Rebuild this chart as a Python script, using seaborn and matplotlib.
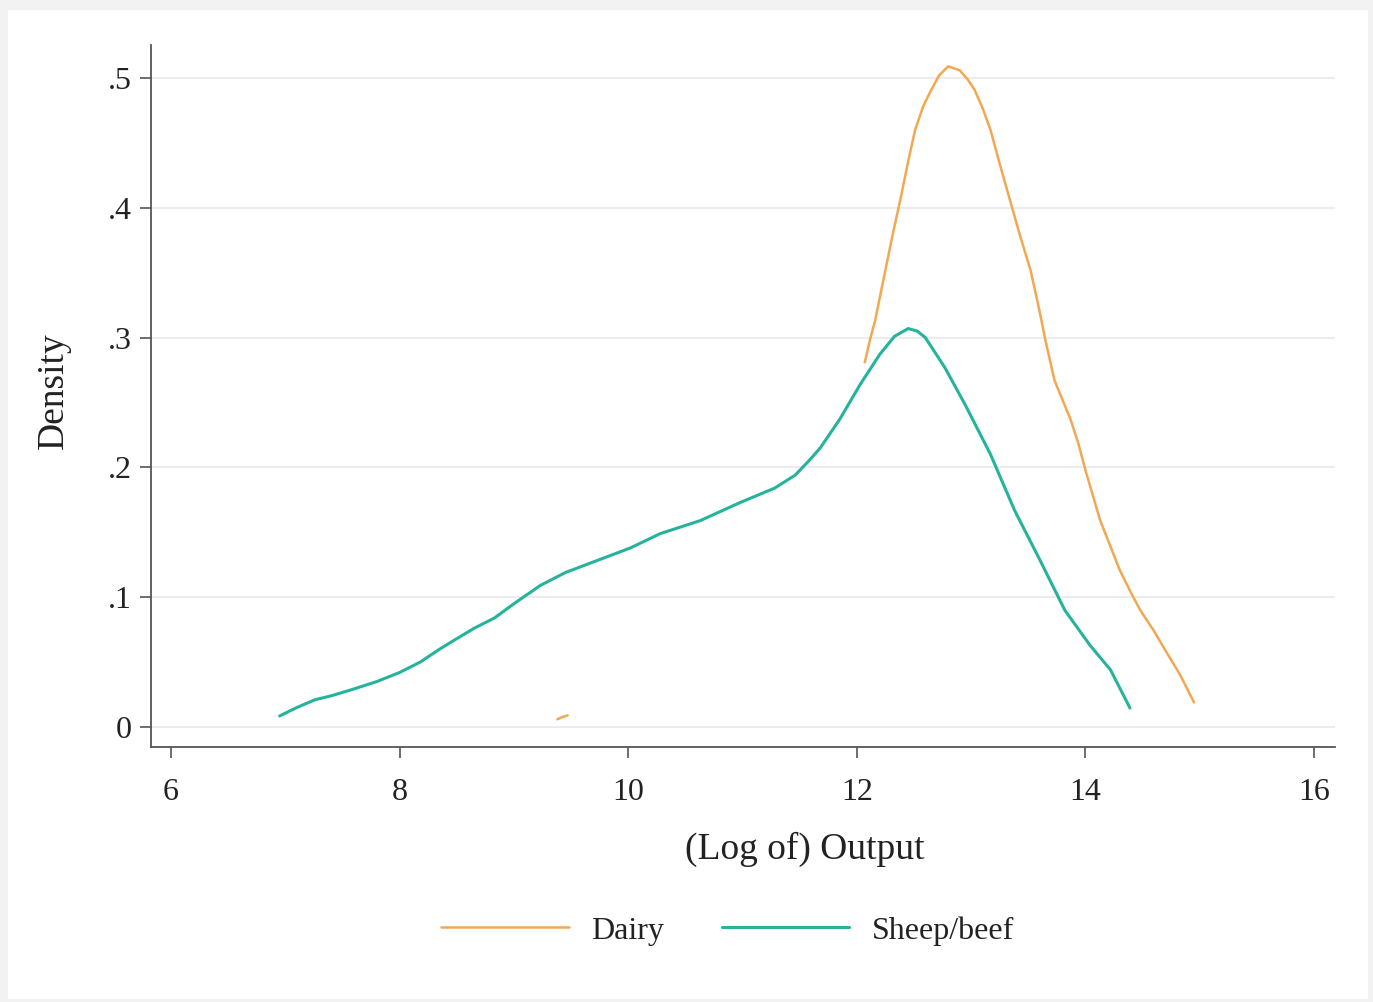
import pandas as pd
import matplotlib.pyplot as plt
import seaborn as sns
from matplotlib.patches import Rectangle

sns.set_style("white")
plt.rcParams['font.family'] = ['Liberation Serif', 'DejaVu Serif']

# Sheep/beef kernel density
sheep_x = [6.95, 7.1, 7.26, 7.4, 7.57, 7.8, 8.0, 8.18, 8.35, 8.48, 8.65, 8.83, 9.0,
           9.23, 9.45, 9.75, 10.02, 10.28, 10.63, 10.98, 11.28, 11.46, 11.58, 11.68,
           11.85, 12.03, 12.2, 12.33, 12.45, 12.53, 12.6, 12.77, 12.95, 13.17, 13.38,
           13.6, 13.82, 14.04, 14.22, 14.39]
sheep_y = [0.0085, 0.015, 0.021, 0.024, 0.0285, 0.035, 0.042, 0.050, 0.060, 0.067,
           0.076, 0.084, 0.095, 0.109, 0.119, 0.129, 0.138, 0.149, 0.159, 0.173,
           0.184, 0.194, 0.205, 0.215, 0.237, 0.264, 0.287, 0.301, 0.307, 0.305,
           0.300, 0.277, 0.248, 0.210, 0.167, 0.129, 0.090, 0.063, 0.044, 0.0146]

# Dairy kernel density: main part and a tiny fragment near 9.4
dairy_x = [12.07, 12.12, 12.16, 12.25, 12.32, 12.38, 12.45, 12.51, 12.58, 12.64, 12.72,
           12.8, 12.9, 12.97, 13.03, 13.1, 13.17, 13.25, 13.34, 13.43, 13.52, 13.6,
           13.65, 13.73, 13.8, 13.87, 13.94, 14.0, 14.07, 14.13, 14.22, 14.3, 14.39,
           14.48, 14.6, 14.7, 14.83, 14.95]
dairy_y = [0.281, 0.300, 0.313, 0.352, 0.382, 0.406, 0.436, 0.460, 0.478, 0.489, 0.502,
           0.509, 0.506, 0.499, 0.491, 0.477, 0.460, 0.434, 0.406, 0.378, 0.352, 0.320,
           0.298, 0.267, 0.252, 0.237, 0.218, 0.198, 0.177, 0.159, 0.139, 0.121, 0.105,
           0.090, 0.074, 0.059, 0.040, 0.019]
dairy_frag_x = [9.38, 9.42, 9.47]
dairy_frag_y = [0.006, 0.0075, 0.009]

y_ticks = [0, 0.1, 0.2, 0.3, 0.4, 0.5]
y_labels = ["0", ".1", ".2", ".3", ".4", ".5"]
x_ticks = [6, 8, 10, 12, 14, 16]

orange = "#f2a852"
teal = "#25b39b"

fig = plt.figure(figsize=(13.73, 10.02), dpi=100, facecolor="#f2f2f2")
fig.patches.append(Rectangle((0.006, 0.003), 0.99, 0.987, transform=fig.transFigure,
                             facecolor="white", edgecolor="none", zorder=-1))
ax = fig.add_axes([0.110, 0.2545, 0.862, 0.7005])
ax.set_facecolor("white")

sns.lineplot(x=dairy_x, y=dairy_y, ax=ax, color=orange, linewidth=1.8, label="Dairy")
sns.lineplot(x=dairy_frag_x, y=dairy_frag_y, ax=ax, color=orange, linewidth=1.8)
sns.lineplot(x=sheep_x, y=sheep_y, ax=ax, color=teal, linewidth=2.2, label="Sheep/beef")

ax.set_xlim(5.825, 16.18)
ax.set_ylim(-0.0154, 0.5254)
ax.set_xticks(x_ticks)
ax.set_yticks(y_ticks)
ax.set_yticklabels(y_labels)
ax.yaxis.grid(True, color="#ececec", linewidth=1.5)
ax.set_axisbelow(True)

for s in ["top", "right"]:
    ax.spines[s].set_visible(False)
for s in ["left", "bottom"]:
    ax.spines[s].set_color("#555555")
    ax.spines[s].set_linewidth(1.3)
ax.tick_params(axis="both", direction="out", length=8, width=1.2, color="#555555",
               labelsize=23, labelcolor="#222222", pad=6, bottom=True, left=True)
ax.tick_params(axis="x", pad=14)

ax.set_xlabel("(Log of) Output", fontsize=27, color="#222222")
ax.xaxis.set_label_coords(0.552, -0.121)
ax.set_ylabel("Density", fontsize=27, color="#222222")
ax.yaxis.set_label_coords(-0.068, 0.508)

handles, labels = ax.get_legend_handles_labels()
ax.get_legend().remove()
fig.legend(handles, labels, loc="center", bbox_to_anchor=(0.53, 0.071), ncol=2,
           frameon=False, fontsize=23, handlelength=4.0, handletextpad=0.7,
           columnspacing=1.8, labelcolor="#222222")

fig.savefig("out.png", dpi=100, facecolor=fig.get_facecolor())
